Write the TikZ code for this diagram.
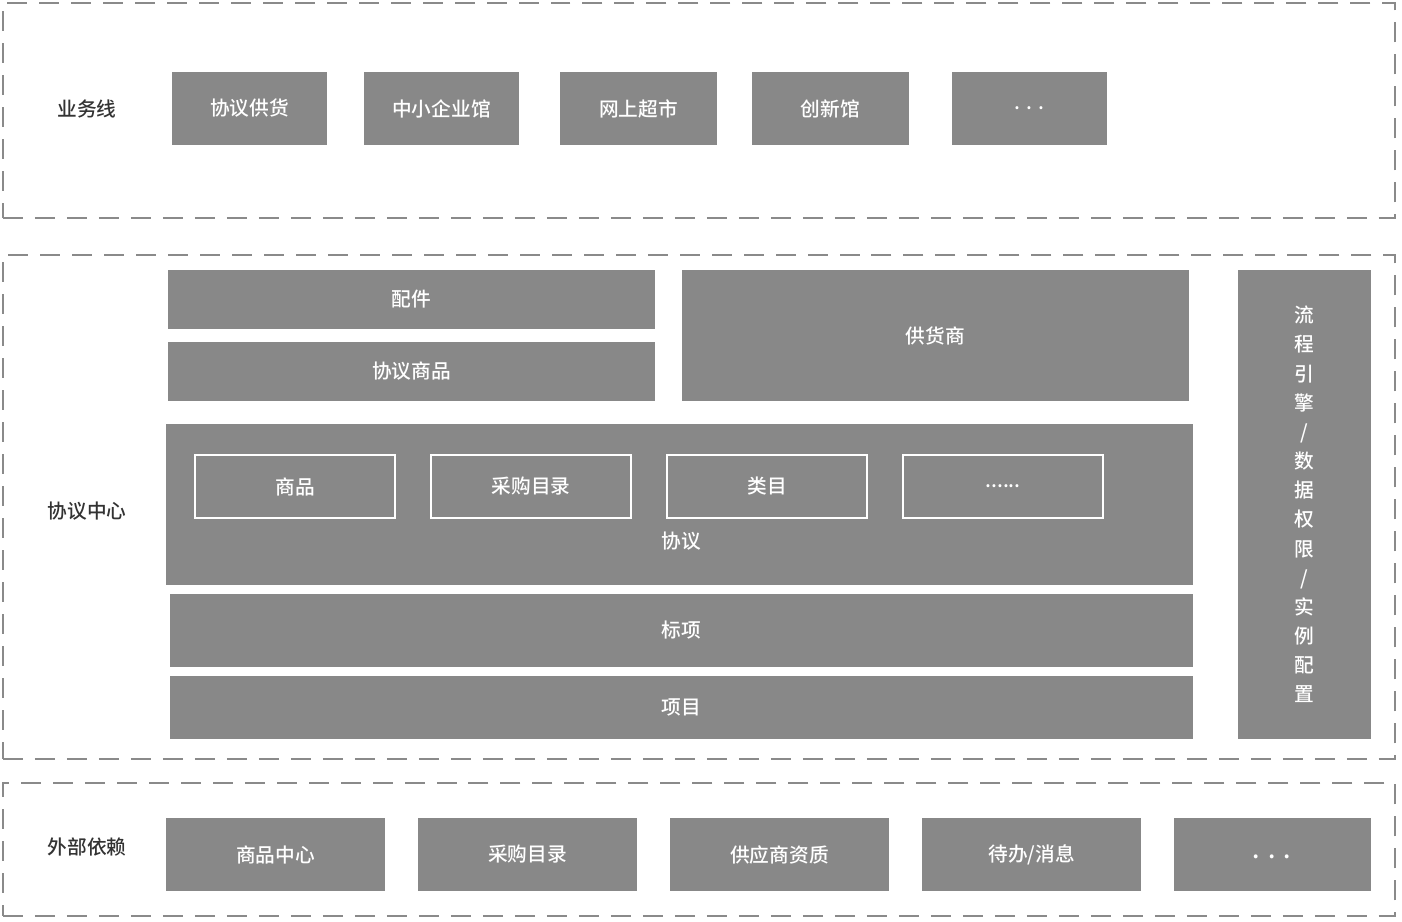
\documentclass[tikz,border=0pt]{standalone}
\usepackage{fontspec}
\setmainfont{Noto Sans CJK SC}
\newfontfamily\medfont{Noto Sans CJK SC Medium}
\usepackage{tikz}
\usetikzlibrary{positioning}
\definecolor{boxgray}{RGB}{136,136,136}
\definecolor{framegray}{RGB}{138,138,138}
\definecolor{labeltext}{RGB}{51,51,51}
\newlength\pxu
\setlength\pxu{0.02cm}
\tikzset{
    font=\fontsize{11.2}{13}\selectfont\medfont,
    sz/.style 2 args={minimum width=#1*\pxu, minimum height=#2*\pxu},
    layer/.style={rectangle, draw=framegray, line width=0.04cm, dash pattern=on 0.4cm off 0.24cm, inner sep=0pt, outer sep=0pt},
    block/.style={rectangle, fill=boxgray, text=white, inner sep=0pt, outer sep=0pt, align=center},
    subblock/.style={rectangle, draw=white, line width=0.04cm, text=white, inner sep=0pt, outer sep=0pt, sz={200}{63}},
    boxtext/.style={text=white, inner sep=0pt},
    layertitle/.style={text=labeltext, inner sep=0pt}
}

\begin{document}
\begin{tikzpicture}[x=0.02cm, y=-0.02cm]

    \useasboundingbox (0,0) rectangle (1402,922);

    % Layer frames
    \node (bizframe) [layer, sz={1392}{215}] at (699,110.5) {};
    \node (coreframe) [layer, sz={1392}{504}] at (699,507) {};
    \node (extframe) [layer, sz={1392}{133}] at (699,849.5) {};

    % Layer titles
    \node (biztitle) [layertitle] at (87,109) {业务线};
    \node (coretitle) [layertitle] at (87,511) {协议中心};
    \node (exttitle) [layertitle] at (87,847) {外部依赖};

    % Business lines
    \node (supply) [block, sz={155}{73}] at (249.5,108.5) {协议供货};
    \node (smeb) [block, sz={155}{73}] at (441.5,108.5) {中小企业馆};
    \node (market) [block, sz={157}{73}] at (638.5,108.5) {网上超市};
    \node (innov) [block, sz={157}{73}] at (830.5,108.5) {创新馆};
    \node (bizmore) [block, sz={155}{73}] at (1029.5,108.5) {.\,\,.\,\,.};

    % Agreement center: upper part
    \node (parts) [block, sz={487}{59}] at (411.5,299.5) {配件};
    \node (agoods) [block, sz={487}{59}] at (411.5,371.5) {协议商品};
    \node (vendor) [block, sz={507}{131}] at (935.5,335.5) {供货商};

    % Agreement block with its members
    \node (agreement) [block, sz={1027}{161}] at (679.5,504.5) {};
    \node (agreelbl) [boxtext] at (681,541) {协议};
    \node (goods) [subblock] at (295,486.5) {商品};
    \node (catalog) [subblock] at (531,486.5) {采购目录};
    \node (category) [subblock] at (767,486.5) {类目};
    \node (submore) [subblock] at (1003,486.5) {\raisebox{-0.25ex}{......}};

    % Lots and projects
    \node (lot) [block, sz={1023}{73}] at (681.5,630.5) {标项};
    \node (project) [block, sz={1023}{63}] at (681.5,707.5) {项目};

    % Side bar
    \node (engine) [block, sz={133}{469}, font=\fontsize{11.2}{16.6}\selectfont\medfont] at (1304.5,504.5)
        {流\\程\\引\\擎\\/\\数\\据\\权\\限\\/\\实\\例\\配\\置};

    % External dependencies
    \node (goodscenter) [block, sz={219}{73}] at (275.5,854.5) {商品中心};
    \node (extcatalog) [block, sz={219}{73}] at (527.5,854.5) {采购目录};
    \node (qualify) [block, sz={219}{73}] at (779.5,854.5) {供应商资质};
    \node (todo) [block, sz={219}{73}] at (1031.5,854.5) {待办/消息};
    \node (extmore) [block, sz={197}{73}] at (1272.5,854.5) {};
    \node (extdots) [boxtext, font=\fontsize{14}{16}\selectfont\medfont] at (1272,857) {.\,\,.\,\,.};

\end{tikzpicture}
\end{document}
